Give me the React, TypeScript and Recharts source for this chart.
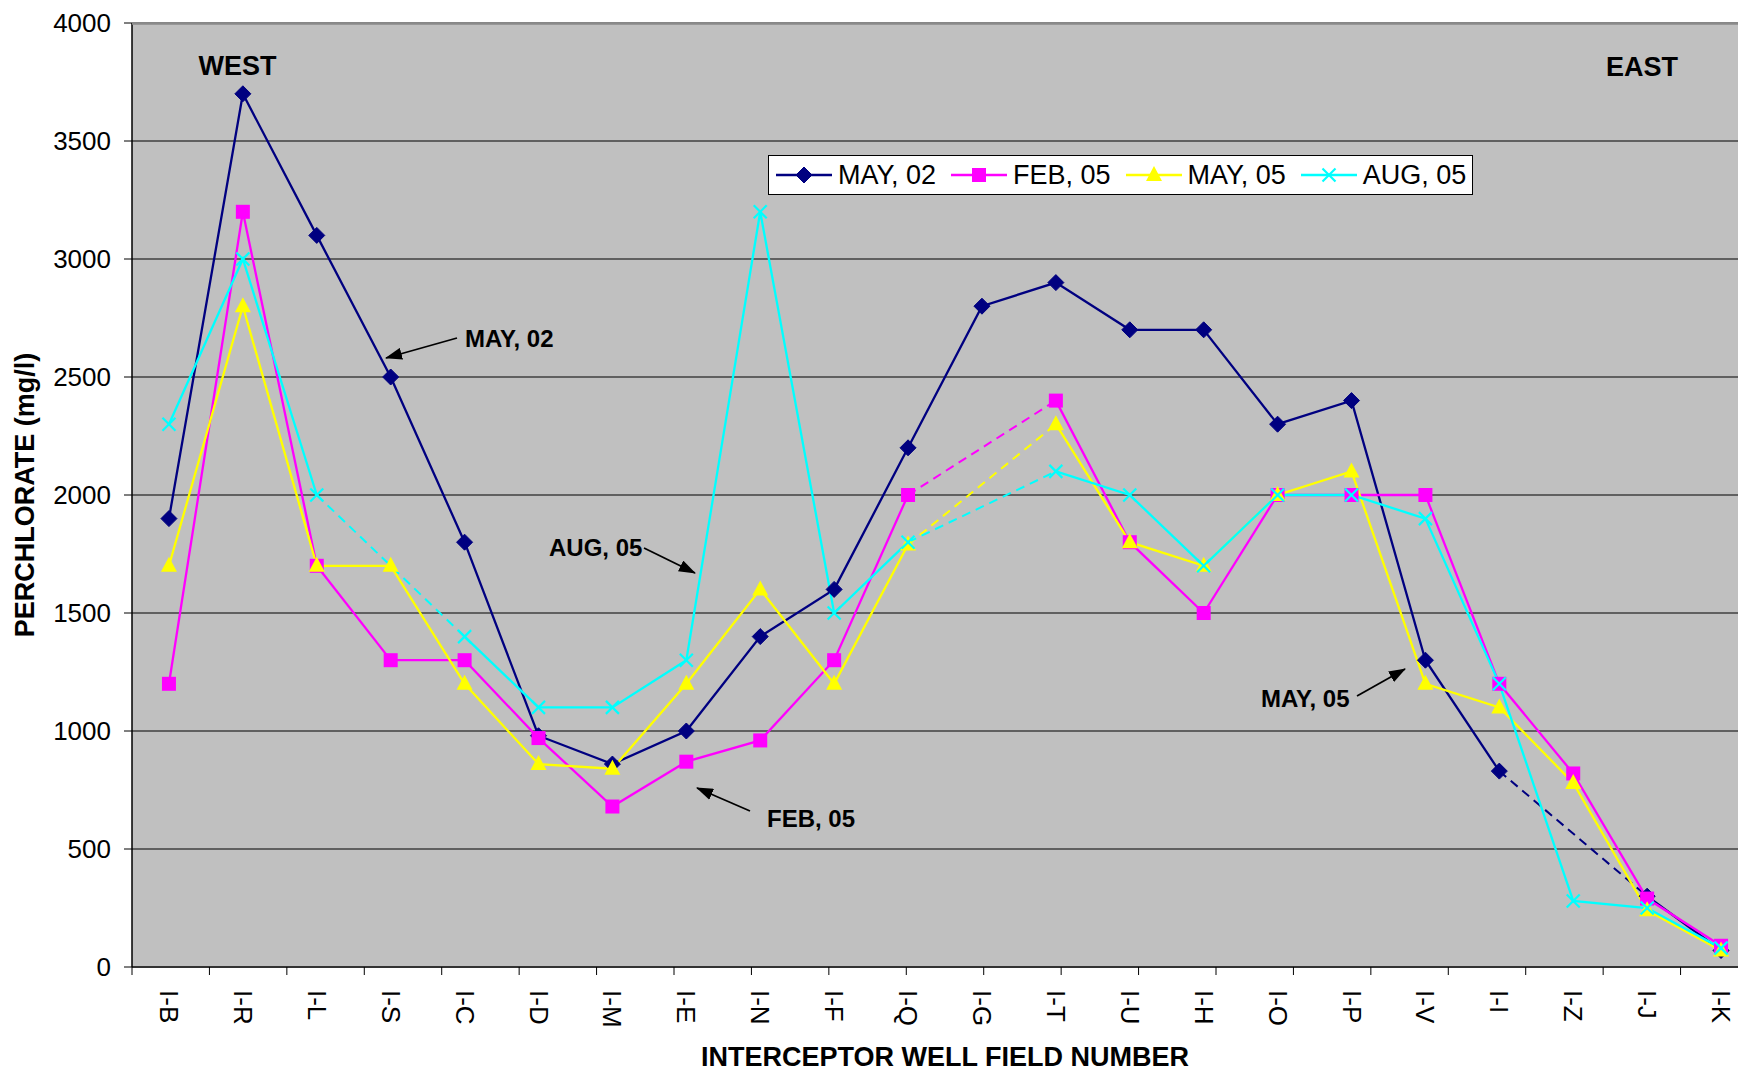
import React from 'react';
import { LineChart, Line, XAxis, YAxis, CartesianGrid, Legend } from 'recharts';

const categories = ['I-B', 'I-R', 'I-L', 'I-S', 'I-C', 'I-D', 'I-M', 'I-E', 'I-N', 'I-F', 'I-Q', 'I-G', 'I-T', 'I-U', 'I-H', 'I-O', 'I-P', 'I-V', 'I-I', 'I-Z', 'I-J', 'I-K'];
const may02: (number | null)[] = [1900, 3700, 3100, 2500, 1800, 980, 860, 1000, 1400, 1600, 2200, 2800, 2900, 2700, 2700, 2300, 2400, 1300, 830, null, 300, 70];
const feb05: (number | null)[] = [1200, 3200, 1700, 1300, 1300, 970, 680, 870, 960, 1300, 2000, null, 2400, 1800, 1500, 2000, 2000, 2000, 1200, 820, 290, 90];
const may05: (number | null)[] = [1700, 2800, 1700, 1700, 1200, 860, 840, 1200, 1600, 1200, 1790, null, 2300, 1800, 1700, 2000, 2100, 1200, 1100, 780, 240, 70];
const aug05: (number | null)[] = [2300, 3000, 2000, null, 1400, 1100, 1100, 1300, 3200, 1500, 1800, null, 2100, 2000, 1700, 2000, 2000, 1900, 1200, 280, 250, 80];
const yTicks = [0, 500, 1000, 1500, 2000, 2500, 3000, 3500, 4000];

const seriesNames = ['MAY, 02', 'FEB, 05', 'MAY, 05', 'AUG, 05'];
const seriesValues = [may02, feb05, may05, aug05];
const seriesColors = ['#000080', '#FF00FF', '#FFFF00', '#00FFFF'];
const seriesShapes = ['diamond', 'square', 'triangle', 'cross'];

const FONT = '"Liberation Sans", Arial, Helvetica, sans-serif';

// one dashed bridge per run of missing samples: only the two bordering points are kept
function gapSegments(vals: (number | null)[]): (number | null)[][] {
  const segs: (number | null)[][] = [];
  for (let i = 1; i < vals.length; i++) {
    if (vals[i] == null && vals[i - 1] != null) {
      let j = i;
      while (j < vals.length && vals[j] == null) j++;
      if (j < vals.length) {
        const seg: (number | null)[] = vals.map(() => null);
        seg[i - 1] = vals[i - 1];
        seg[j] = vals[j];
        segs.push(seg);
      }
    }
  }
  return segs;
}

const bridges: { series: number; vals: (number | null)[] }[] = [];
seriesValues.forEach((vals, s) => gapSegments(vals).forEach((seg) => bridges.push({ series: s, vals: seg })));

const rows = categories.map((cat, i) => {
  const r: Record<string, any> = { cat };
  seriesValues.forEach((vals, s) => {
    r['s' + s] = vals[i];
  });
  bridges.forEach((b, k) => {
    r['g' + k] = b.vals[i];
  });
  return r;
});

const edgeTicks = categories.map((_, i) => i).concat([categories.length]);

function Marker({ shape, cx, cy, color }: { shape: string; cx: number; cy: number; color: string }) {
  if (shape === 'diamond') {
    const h = 8;
    return <polygon points={`${cx},${cy - h} ${cx + h},${cy} ${cx},${cy + h} ${cx - h},${cy}`} fill={color} stroke={color} strokeWidth={1} />;
  }
  if (shape === 'square') {
    const h = 7;
    return <rect x={cx - h} y={cy - h} width={2 * h} height={2 * h} fill={color} />;
  }
  if (shape === 'triangle') {
    return <polygon points={`${cx},${cy - 9} ${cx + 8},${cy + 6} ${cx - 8},${cy + 6}`} fill={color} />;
  }
  const h = 6.5;
  return (
    <g stroke={color} strokeWidth={2.2}>
      <line x1={cx - h} y1={cy - h} x2={cx + h} y2={cy + h} />
      <line x1={cx - h} y1={cy + h} x2={cx + h} y2={cy - h} />
    </g>
  );
}

const makeDot = (s: number) => (props: any) => {
  const { cx, cy, value, index } = props;
  if (cx == null || cy == null || value == null || Number.isNaN(cy)) return <g key={`e${s}-${index}`} />;
  return (
    <g key={`d${s}-${index}`}>
      <Marker shape={seriesShapes[s]} cx={cx} cy={cy} color={seriesColors[s]} />
    </g>
  );
};

const XTick = (props: any) => {
  const { x, y, payload } = props;
  return (
    <text x={x} y={y} transform={`rotate(90 ${x} ${y})`} textAnchor="start" dominantBaseline="central" fontSize={26} fontFamily={FONT} fill="#000">
      {payload.value}
    </text>
  );
};

const EmptyTick = () => <g />;

const renderLegend = (props: any) => {
  const payload = (props.payload || [])
    .filter((p: any) => seriesNames.includes(p.value))
    .sort((a: any, b: any) => seriesNames.indexOf(a.value) - seriesNames.indexOf(b.value));
  return (
    <div
      style={{
        display: 'flex',
        alignItems: 'center',
        background: '#fff',
        border: '1.5px solid #000',
        height: 40,
        padding: '0 6px 0 7px',
        fontFamily: FONT,
        fontSize: 27,
        color: '#000',
        whiteSpace: 'nowrap',
        boxSizing: 'border-box',
      }}
    >
      {payload.map((p: any, i: number) => {
        const s = seriesNames.indexOf(p.value);
        return (
          <div key={p.value} style={{ display: 'flex', alignItems: 'center', marginRight: i < payload.length - 1 ? 15 : 0 }}>
            <svg width={56} height={24} style={{ display: 'block' }}>
              <line x1={0} y1={12} x2={56} y2={12} stroke={seriesColors[s]} strokeWidth={2.5} />
              <Marker shape={seriesShapes[s]} cx={28} cy={12} color={seriesColors[s]} />
            </svg>
            <span style={{ marginLeft: 6, lineHeight: '27px' }}>{p.value}</span>
          </div>
        );
      })}
    </div>
  );
};

const annotations = [
  { text: 'MAY, 02', tx: 465, ty: 338, x1: 457, y1: 338, x2: 386, y2: 358 },
  { text: 'AUG, 05', tx: 549, ty: 547, x1: 644, y1: 548, x2: 695, y2: 573 },
  { text: 'FEB, 05', tx: 767, ty: 818, x1: 750, y1: 811, x2: 697, y2: 788 },
  { text: 'MAY, 05', tx: 1261, ty: 698, x1: 1357, y1: 696, x2: 1405, y2: 669 },
];

export default function App() {
  return (
    <div style={{ position: 'absolute', left: 0, top: 0, width: 1738, height: 1073, overflow: 'hidden', background: '#fff' }}>
      <div style={{ position: 'absolute', left: 0, top: 0 }}>
        <LineChart width={1760} height={1073} data={rows} margin={{ top: 23, right: 2, left: 0, bottom: 0 }}>
          <CartesianGrid vertical={false} stroke="#000" strokeWidth={1} fill="#C0C0C0" fillOpacity={1} />
          <XAxis
            xAxisId={0}
            type="number"
            domain={[0, categories.length]}
            ticks={edgeTicks}
            allowDataOverflow
            height={10}
            tickSize={8}
            tick={<EmptyTick />}
            axisLine={{ stroke: '#333', strokeWidth: 2 }}
            tickLine={{ stroke: '#000', strokeWidth: 1 }}
          />
          <XAxis
            xAxisId={1}
            dataKey="cat"
            scale="band"
            height={96}
            interval={0}
            tickLine={false}
            axisLine={false}
            tickSize={0}
            tickMargin={13}
            tick={<XTick />}
            label={{
              value: 'INTERCEPTOR WELL FIELD NUMBER',
              position: 'insideBottom',
              offset: 7,
              fontSize: 27,
              fontWeight: 'bold',
              fill: '#000',
              fontFamily: FONT,
            }}
          />
          <YAxis
            width={132}
            domain={[0, 4000]}
            ticks={yTicks}
            interval={0}
            tickSize={8}
            tickMargin={13}
            axisLine={{ stroke: '#000', strokeWidth: 1.5 }}
            tickLine={{ stroke: '#000' }}
            tick={{ fontSize: 26, fill: '#000', fontFamily: FONT }}
            label={{
              value: 'PERCHLORATE (mg/l)',
              angle: -90,
              position: 'insideLeft',
              offset: 24,
              textAnchor: 'middle',
              style: { textAnchor: 'middle' },
              fontSize: 27,
              fontWeight: 'bold',
              fill: '#000',
              fontFamily: FONT,
            }}
          />
          <Legend
            layout="vertical"
            align="center"
            verticalAlign="middle"
            content={renderLegend}
            wrapperStyle={{ position: 'absolute', left: 768, top: 155, width: 'auto', height: 'auto' }}
          />
          {bridges.map((b, k) => (
            <Line
              key={'g' + k}
              xAxisId={1}
              dataKey={'g' + k}
              name={seriesNames[b.series] + ' gap ' + k}
              stroke={seriesColors[b.series]}
              strokeWidth={2}
              strokeDasharray="9 6"
              dot={false}
              activeDot={false}
              connectNulls
              legendType="none"
              isAnimationActive={false}
            />
          ))}
          {seriesNames.map((n, s) => (
            <Line
              key={'s' + s}
              xAxisId={1}
              dataKey={'s' + s}
              name={n}
              stroke={seriesColors[s]}
              strokeWidth={2.3}
              dot={makeDot(s)}
              activeDot={false}
              connectNulls={false}
              isAnimationActive={false}
            />
          ))}
        </LineChart>
      </div>
      <svg width={1760} height={1073} style={{ position: 'absolute', left: 0, top: 0, pointerEvents: 'none' }}>
        <defs>
          <marker id="ah" markerWidth={17} markerHeight={12} refX={16} refY={6} orient="auto" markerUnits="userSpaceOnUse">
            <path d="M0,0 L17,6 L0,12 z" fill="#000" />
          </marker>
        </defs>
        <line x1={132} y1={23.5} x2={1760} y2={23.5} stroke="#8a8a8a" strokeWidth={2.5} />
        <text x={237.5} y={66} textAnchor="middle" dominantBaseline="central" fontSize={27} fontWeight="bold" fontFamily={FONT} fill="#000">WEST</text>
        <text x={1642} y={66.5} textAnchor="middle" dominantBaseline="central" fontSize={27} fontWeight="bold" fontFamily={FONT} fill="#000">EAST</text>
        {annotations.map((a) => (
          <g key={a.text}>
            <text x={a.tx} y={a.ty} dominantBaseline="central" fontSize={24} fontWeight="bold" fontFamily={FONT} fill="#000">{a.text}</text>
            <line x1={a.x1} y1={a.y1} x2={a.x2} y2={a.y2} stroke="#000" strokeWidth={1.8} markerEnd="url(#ah)" />
          </g>
        ))}
      </svg>
    </div>
  );
}
